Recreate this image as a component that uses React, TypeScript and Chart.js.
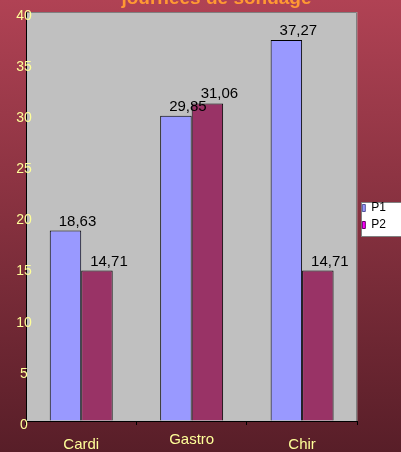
import React, { useEffect, useRef } from "react";
import { Chart, registerables } from "chart.js";

Chart.register(...registerables);

const chartTitle = "journées de sondage";
const categories = ["Cardi", "Gastro", "Chir"];
const seriesNames = ["P1", "P2"];
const p1Values = [18.63, 29.85, 37.27];
const p2Values = [14.71, 31.06, 14.71];
const barColors = ["#9999FF", "#993366"];
const legendColors = ["#9999FF", "#FF00FF"];
const legendBorders = ["#555599", "#660066"];
const yMin = 0;
const yMax = 40;
const yStep = 5;

const FONT = 'Arial, "Liberation Sans", sans-serif';

const fmt = (v: number) => v.toFixed(2).replace(".", ",");

const plotBackground = {
  id: "plotBackground",
  beforeDraw(chart: any) {
    const { ctx, chartArea: a } = chart;
    ctx.save();
    ctx.fillStyle = "#C0C0C0";
    ctx.fillRect(a.left, a.top, a.right - a.left, a.bottom - a.top);
    ctx.strokeStyle = "#808080";
    ctx.lineWidth = 1;
    ctx.beginPath();
    ctx.moveTo(a.left, Math.round(a.top) + 0.5);
    ctx.lineTo(Math.round(a.right) - 0.5, Math.round(a.top) + 0.5);
    ctx.lineTo(Math.round(a.right) - 0.5, a.bottom);
    ctx.stroke();
    // legend frame
    const lg = chart.legend;
    if (lg && lg.columnSizes && lg.columnSizes.length) {
      const colH = lg.columnSizes[0].height;
      const pad = lg.options.labels.padding;
      const y0 = Math.round((lg.top + pad + lg.bottom - colH) / 2) + 0.5;
      const x0 = Math.round(lg.left + 4) + 0.5;
      ctx.fillStyle = "#FFFFFF";
      ctx.fillRect(x0, y0, chart.width - x0 + 5, colH);
      ctx.strokeStyle = "#808080";
      ctx.strokeRect(x0, y0, chart.width - x0 + 5, colH);
    }
    ctx.restore();
  },
};

const titleSpan = {
  id: "titleSpan",
  afterLayout(chart: any) {
    const t = chart.titleBlock;
    if (t) {
      t.left = 0;
      t.right = chart.width;
      t.width = chart.width;
    }
  },
};

const valueLabels = {
  id: "valueLabels",
  afterDatasetsDraw(chart: any) {
    const { ctx } = chart;
    ctx.save();
    ctx.font = `15px ${FONT}`;
    ctx.fillStyle = "#000000";
    ctx.textAlign = "center";
    ctx.textBaseline = "alphabetic";
    chart.data.datasets.forEach((ds: any, i: number) => {
      const meta = chart.getDatasetMeta(i);
      meta.data.forEach((bar: any, j: number) => {
        ctx.fillText(fmt(ds.data[j]), bar.x + 12, bar.y - 5);
      });
    });
    ctx.restore();
  },
};

export default function App() {
  const canvasRef = useRef<HTMLCanvasElement | null>(null);

  useEffect(() => {
    const canvas = canvasRef.current;
    if (!canvas) return;
    const chart = new Chart(canvas, {
      type: "bar",
      data: {
        labels: categories,
        datasets: [
          {
            label: seriesNames[0],
            data: p1Values,
            backgroundColor: barColors[0],
            borderColor: "#000000",
            borderWidth: 1,
            categoryPercentage: 0.57,
            barPercentage: 1.0,
          },
          {
            label: seriesNames[1],
            data: p2Values,
            backgroundColor: barColors[1],
            borderColor: "#000000",
            borderWidth: 1,
            categoryPercentage: 0.57,
            barPercentage: 1.0,
          },
        ],
      },
      options: {
        animation: false,
        responsive: false,
        maintainAspectRatio: false,
        layout: { padding: { left: 0, right: 37, top: 0, bottom: 0 } },
        plugins: {
          title: {
            display: true,
            text: chartTitle,
            color: "#FF9933",
            font: { family: FONT, size: 19, weight: "bold", lineHeight: 1 },
            padding: { top: -10.4, bottom: 3.4 },
          },
          legend: {
            display: true,
            position: "right",
            fullSize: false,
            labels: {
              color: "#000000",
              font: { family: FONT, size: 12 },
              boxWidth: 3,
              boxHeight: 7,
              padding: 5,
              generateLabels: (chart: any) => {
                const items = Chart.defaults.plugins.legend.labels.generateLabels(chart);
                return items.map((it: any, i: number) => ({
                  ...it,
                  fillStyle: legendColors[i],
                  strokeStyle: legendBorders[i],
                  lineWidth: 1,
                }));
              },
            },
          },
          tooltip: { enabled: false },
        },
        scales: {
          x: {
            type: "category",
            grid: {
              display: true,
              drawOnChartArea: false,
              drawTicks: true,
              tickLength: 4,
              color: "#000000",
              offset: true,
            },
            border: { display: true, color: "#000000", width: 1 },
            ticks: {
              color: "#FFFF99",
              padding: 6,
              maxRotation: 0,
              font: (ctx: any) => ({
                family: FONT,
                size: 15,
                lineHeight: ctx.index === 1 ? 1.2 : 1.8,
              }),
            },
            afterFit: (scale: any) => {
              scale.height = 31;
            },
          },
          y: {
            min: yMin,
            max: yMax,
            grid: { display: true, drawOnChartArea: false, drawTicks: false },
            border: { display: true, color: "#000000", width: 1 },
            ticks: {
              stepSize: yStep,
              color: "#FFFF99",
              mirror: true,
              crossAlign: "center",
              padding: -9.8,
              labelOffset: 4,
              font: { family: FONT, size: 14 },
            },
            afterFit: (scale: any) => {
              scale.width = 26;
            },
          },
        },
      },
      plugins: [plotBackground, titleSpan, valueLabels],
    } as any);
    return () => chart.destroy();
  }, []);

  return (
    <div
      style={{
        position: "absolute",
        left: 0,
        top: 0,
        width: 401,
        height: 452,
        overflow: "hidden",
        background: "linear-gradient(180deg, #B04254 0%, #581E28 100%)",
      }}
    >
      <canvas
        ref={canvasRef}
        width={433}
        height={452}
        style={{ display: "block", width: 433, height: 452 }}
      />
    </div>
  );
}
